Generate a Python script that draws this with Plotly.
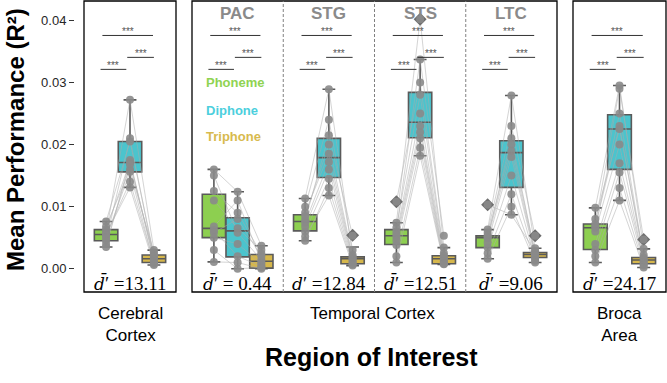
import plotly.graph_objects as go

W, H = 667, 383

# ---------------- data ----------------
regions = ["Cerebral Cortex", "PAC", "STG", "STS", "LTC", "Broca Area"]
conditions = ["Phoneme", "Diphone", "Triphone"]

# per-subject mean performance (R^2), one list per region
phoneme_values = [
    [0.0076, 0.0058, 0.0063, 0.0046, 0.0068, 0.0054, 0.0035, 0.0056, 0.0040, 0.0050],
    [0.0160, 0.0150, 0.0125, 0.0110, 0.0068, 0.0062, 0.0058, 0.0050, 0.0030, 0.0011],
    [0.0113, 0.0078, 0.0090, 0.0060, 0.0100, 0.0074, 0.0052, 0.0085, 0.0068, 0.0045],
    [0.0074, 0.0108, 0.0060, 0.0051, 0.0066, 0.0038, 0.0055, 0.0045, 0.0020, 0.0010],
    [0.0063, 0.0058, 0.0051, 0.0103, 0.0053, 0.0049, 0.0034, 0.0042, 0.0025, 0.0016],
    [0.0098, 0.0072, 0.0066, 0.0080, 0.0068, 0.0040, 0.0060, 0.0030, 0.0020, 0.0010],
]
diphone_values = [
    [0.0205, 0.0272, 0.0172, 0.0210, 0.0160, 0.0140, 0.0175, 0.0131, 0.0168, 0.0156],
    [0.0124, 0.0058, 0.0090, 0.0065, 0.0110, 0.0020, 0.0080, 0.0040, 0.0000, 0.0010],
    [0.0289, 0.0215, 0.0185, 0.0145, 0.0240, 0.0172, 0.0118, 0.0200, 0.0160, 0.0130],
    [0.0402, 0.0300, 0.0337, 0.0230, 0.0280, 0.0210, 0.0250, 0.0220, 0.0195, 0.0182],
    [0.0279, 0.0230, 0.0210, 0.0087, 0.0200, 0.0190, 0.0150, 0.0180, 0.0120, 0.0100],
    [0.0295, 0.0290, 0.0250, 0.0225, 0.0230, 0.0170, 0.0200, 0.0155, 0.0130, 0.0110],
]
triphone_values = [
    [0.0022, 0.0030, 0.0015, 0.0017, 0.0026, 0.0010, 0.0012, 0.0006, 0.0020, 0.0008],
    [0.0037, 0.0014, 0.0024, 0.0030, 0.0011, 0.0004, 0.0020, 0.0008, 0.0002, 0.0000],
    [0.0022, 0.0053, 0.0017, 0.0009, 0.0030, 0.0015, 0.0005, 0.0019, 0.0012, 0.0007],
    [0.0034, 0.0025, 0.0053, 0.0015, 0.0021, 0.0009, 0.0017, 0.0012, 0.0008, 0.0007],
    [0.0033, 0.0053, 0.0024, 0.0028, 0.0026, 0.0022, 0.0016, 0.0019, 0.0013, 0.0010],
    [0.0032, 0.0047, 0.0018, 0.0022, 0.0015, 0.0013, 0.0010, 0.0008, 0.0005, 0.0002],
]

# box statistics per region
phoneme_lowerfence = [0.0035, 0.0011, 0.0045, 0.0010, 0.0016, 0.0010]
phoneme_q1 = [0.0045, 0.0050, 0.0061, 0.0039, 0.0034, 0.0031]
phoneme_median = [0.0055, 0.0065, 0.0076, 0.0053, 0.0050, 0.0066]
phoneme_q3 = [0.0063, 0.0120, 0.0087, 0.0063, 0.0053, 0.0072]
phoneme_upperfence = [0.0076, 0.0160, 0.0113, 0.0074, 0.0063, 0.0098]

diphone_lowerfence = [0.0131, 0.0000, 0.0118, 0.0182, 0.0087, 0.0110]
diphone_q1 = [0.0156, 0.0019, 0.0147, 0.0211, 0.0131, 0.0160]
diphone_median = [0.0171, 0.0061, 0.0179, 0.0236, 0.0187, 0.0225]
diphone_q3 = [0.0205, 0.0082, 0.0210, 0.0284, 0.0206, 0.0248]
diphone_upperfence = [0.0272, 0.0124, 0.0289, 0.0337, 0.0279, 0.0295]

triphone_lowerfence = [0.0006, 0.0000, 0.0005, 0.0007, 0.0010, 0.0002]
triphone_q1 = [0.0010, 0.0001, 0.0008, 0.0008, 0.0018, 0.0008]
triphone_median = [0.0016, 0.0012, 0.0016, 0.0016, 0.0023, 0.0014]
triphone_q3 = [0.0022, 0.0023, 0.0019, 0.0021, 0.0026, 0.0018]
triphone_upperfence = [0.0030, 0.0037, 0.0035, 0.0034, 0.0033, 0.0032]

# outliers (region index, condition, value)
outlier_region = [2, 3, 3, 4, 4, 5]
outlier_condition = ["Triphone", "Phoneme", "Diphone", "Phoneme", "Triphone", "Triphone"]
outlier_value = [0.0054, 0.0108, 0.0402, 0.0103, 0.0053, 0.0047]

d_prime = [13.11, 0.44, 12.84, 12.51, 9.06, 24.17]
d_prime_bar = [True, True, False, True, True, True]
sig_labels = ["***", "***", "***"]  # P-D, D-T, P-T

temporal_labels = ["PAC", "STG", "STS", "LTC"]
group_labels = ["Cerebral<br>Cortex", "Temporal Cortex", "Broca<br>Area"]
y_ticks = [0.00, 0.01, 0.02, 0.03, 0.04]
y_ticktext = ["0.00", "0.01", "0.02", "0.03", "0.04"]

# ---------------- layout / style ----------------
region_axis = ["x", "x2", "x2", "x2", "x2", "x3"]
region_pos = [0, 0, 1, 2, 3, 0]
offsets = {"Phoneme": -0.26, "Diphone": 0.0, "Triphone": 0.26}
fill = {"Phoneme": "#8dcf50", "Diphone": "#4bc4cd", "Triphone": "#d6b74c"}
textcol = {"Phoneme": "#8fd352", "Diphone": "#4ccfdd", "Triphone": "#d8ba4e"}
values = {"Phoneme": phoneme_values, "Diphone": diphone_values, "Triphone": triphone_values}
stats = {
    "Phoneme": (phoneme_lowerfence, phoneme_q1, phoneme_median, phoneme_q3, phoneme_upperfence),
    "Diphone": (diphone_lowerfence, diphone_q1, diphone_median, diphone_q3, diphone_upperfence),
    "Triphone": (triphone_lowerfence, triphone_q1, triphone_median, triphone_q3, triphone_upperfence),
}

T_MARGIN = 1
PH = H - T_MARGIN


def py(pix):
    return 1 - (pix - T_MARGIN) / PH


def px(pix):
    return pix / W


axes = ["x", "x2", "x3"]
x_domains = {"x": [px(84), px(176)], "x2": [px(192), px(557)], "x3": [px(573), px(666)]}
x_ranges = {"x": [-0.5, 0.5], "x2": [-0.5, 3.5], "x3": [-0.5, 0.5]}
Y_RANGE = [-0.00375, 0.04312]

fig = go.Figure()

# boxes
for c in conditions:
    lf, q1, med, q3, uf = stats[c]
    for a in axes:
        idx = [i for i in range(len(regions)) if region_axis[i] == a]
        fig.add_trace(go.Box(
            x=[region_pos[i] + offsets[c] for i in idx],
            q1=[q1[i] for i in idx], median=[med[i] for i in idx], q3=[q3[i] for i in idx],
            lowerfence=[lf[i] for i in idx], upperfence=[uf[i] for i in idx],
            xaxis=a, yaxis="y", width=0.255, whiskerwidth=0.55,
            fillcolor=fill[c], line=dict(color="#5a5a5a", width=1.6),
            boxpoints=False, hoverinfo="skip", showlegend=False,
        ))

# subject lines
for a in axes:
    lx, ly = [], []
    for i in range(len(regions)):
        if region_axis[i] != a:
            continue
        for s in range(len(phoneme_values[i])):
            for c in conditions:
                lx.append(region_pos[i] + offsets[c])
                ly.append(values[c][i][s])
            lx.append(None)
            ly.append(None)
    fig.add_trace(go.Scatter(x=lx, y=ly, mode="lines", xaxis=a, yaxis="y",
                             line=dict(color="#ababab", width=0.6), opacity=0.85,
                             hoverinfo="skip", showlegend=False))

# outliers (diamonds)
for a in axes:
    ox, oy = [], []
    for r, c, v in zip(outlier_region, outlier_condition, outlier_value):
        if region_axis[r] == a:
            ox.append(region_pos[r] + offsets[c])
            oy.append(v)
    if ox:
        fig.add_trace(go.Scatter(x=ox, y=oy, mode="markers", xaxis=a, yaxis="y",
                                 marker=dict(symbol="diamond", size=10, color="#6e6e6e"),
                                 hoverinfo="skip", showlegend=False))

# subject points
for a in axes:
    dx, dy = [], []
    for i in range(len(regions)):
        if region_axis[i] != a:
            continue
        for c in conditions:
            for v in values[c][i]:
                dx.append(region_pos[i] + offsets[c])
                dy.append(v)
    fig.add_trace(go.Scatter(x=dx, y=dy, mode="markers", xaxis=a, yaxis="y",
                             marker=dict(size=8, color="#8a8a8a", opacity=0.9),
                             hoverinfo="skip", showlegend=False))

shapes = []
annotations = []

# panel frames
for a in axes:
    shapes.append(dict(type="rect", xref=f"{a} domain", yref="y domain", x0=0, x1=1, y0=0, y1=1,
                       line=dict(color="black", width=1.3), layer="above"))
# temporal dividers
for xd in [0.5, 1.5, 2.5]:
    shapes.append(dict(type="line", xref="x2", yref="y domain", x0=xd, x1=xd, y0=0, y1=1,
                       line=dict(color="#808080", width=1, dash="3px,2px")))

# significance brackets
sig_y = [0.03211, 0.03404, 0.03757]
sig_x = [(-0.32, -0.04), (-0.03, 0.26), (-0.30, 0.25)]
for i in range(len(regions)):
    a = region_axis[i]
    for k in range(3):
        x0 = region_pos[i] + sig_x[k][0]
        x1 = region_pos[i] + sig_x[k][1]
        shapes.append(dict(type="line", xref=a, yref="y", x0=x0, x1=x1, y0=sig_y[k], y1=sig_y[k],
                           line=dict(color="#333333", width=1)))
        annotations.append(dict(x=(x0 + x1) / 2, y=sig_y[k], xref=a, yref="y", text=sig_labels[k],
                                showarrow=False, yanchor="middle", yshift=4,
                                font=dict(family="Liberation Sans", size=10, color="#555555")))

# d' annotations
for i in range(len(regions)):
    a = region_axis[i]
    dchar = "d\u0304" if d_prime_bar[i] else "d"
    dsym = f"<span style='font-family:DejaVu Serif;font-size:17px'><i>{dchar}</i></span>\u2032"
    num = f"{d_prime[i]:.2f}"
    eq = "= " if d_prime[i] < 10 and i == 1 else "="
    annotations.append(dict(x=region_pos[i], y=py(283), xref=a, yref="paper",
                            text=f"{dsym} {eq}{num}",
                            showarrow=False, yanchor="middle",
                            font=dict(family="Liberation Serif", size=19, color="black")))

# temporal sub-region labels
for k, lab in enumerate(temporal_labels):
    annotations.append(dict(x=k, y=py(13), xref="x2", yref="paper", text=f"<b>{lab}</b>",
                            showarrow=False, yanchor="middle",
                            font=dict(family="Liberation Sans", size=17, color="#8a8a8a")))

# legend-like labels
for k, c in enumerate(conditions):
    annotations.append(dict(x=px(204), y=py(83 + 27 * k), xref="paper", yref="paper",
                            text=f"<b>{c}</b>", showarrow=False, xanchor="left", yanchor="middle",
                            font=dict(family="Liberation Sans", size=13, color=textcol[c])))

# group labels under panels
group_x = [130, 372, 619]
group_y = [324, 313, 324]
for lab, gx, gy in zip(group_labels, group_x, group_y):
    annotations.append(dict(x=px(gx), y=py(gy), xref="paper", yref="paper", text=lab,
                            showarrow=False, xanchor="center", yanchor="middle",
                            font=dict(family="Liberation Sans", size=17, color="black")))

# axis titles
annotations.append(dict(x=px(371), y=py(357), xref="paper", yref="paper",
                        text="<b>Region of Interest</b>", showarrow=False,
                        xanchor="center", yanchor="middle",
                        font=dict(family="Liberation Sans", size=25, color="black")))
annotations.append(dict(x=px(15), y=py(140), xref="paper", yref="paper",
                        text="<b>Mean Performance (R\u00b2)</b>", showarrow=False, textangle=-90,
                        xanchor="center", yanchor="middle",
                        font=dict(family="Liberation Sans", size=24, color="black")))

layout = dict(
    width=W, height=H,
    margin=dict(l=0, r=0, t=T_MARGIN, b=0),
    paper_bgcolor="white", plot_bgcolor="white",
    template="none",
    boxmode="overlay",
    showlegend=False,
    shapes=shapes, annotations=annotations,
    yaxis=dict(domain=[py(292), 1], range=Y_RANGE, anchor="free", position=px(74),
               tickvals=y_ticks, ticktext=y_ticktext, ticks="outside", ticklen=5,
               tickcolor="#333333", tickwidth=1, showgrid=False, zeroline=False, showline=False,
               tickfont=dict(family="Liberation Sans", size=13, color="#262626")),
)
for a in axes:
    key = "xaxis" if a == "x" else "xaxis" + a[1:]
    layout[key] = dict(domain=x_domains[a], range=x_ranges[a], anchor="y",
                       showticklabels=False, ticks="", showgrid=False, zeroline=False,
                       showline=False)

fig.update_layout(**layout)
fig.write_html("out.html", config={"displayModeBar": False},
               post_script="document.body.style.margin='0';document.body.style.overflow='hidden';")
